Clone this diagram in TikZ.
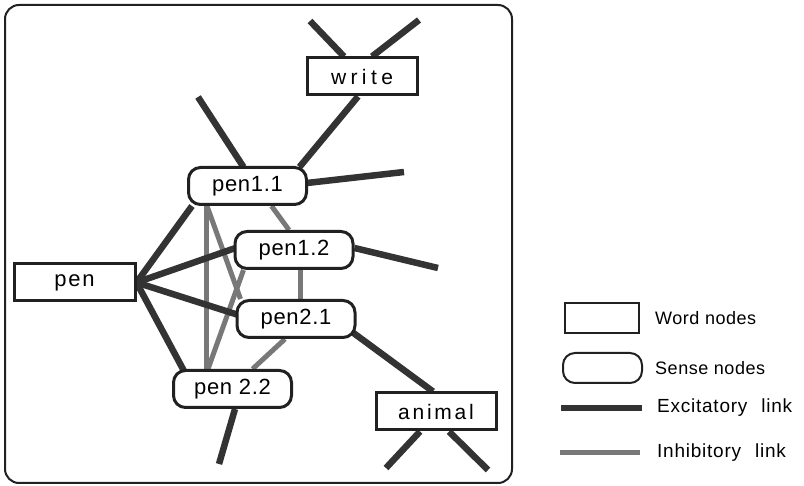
\documentclass[tikz,border=0pt]{standalone}
\usepackage{fontspec}
\setmainfont{Liberation Sans}
\usetikzlibrary{calc}
\pgfdeclarelayer{bg}
\pgfsetlayers{bg,main}
\definecolor{exc}{gray}{0.2}
\definecolor{inh}{gray}{0.47}
\definecolor{bord}{gray}{0.13}
\tikzset{
  wordnode/.style={draw=bord, line width=3pt, fill=white, minimum width=#1, minimum height=37pt, inner sep=0pt,
    font=\fontsize{21}{25}\selectfont\addfontfeatures{LetterSpace=8}},
  sensenode/.style={draw=bord, line width=3pt, fill=white, rounded corners=12pt, minimum width=118pt, minimum height=37pt, inner sep=0pt,
    font=\fontsize{22}{26}\selectfont\addfontfeatures{LetterSpace=3}},
  exclink/.style={draw=exc, line width=6.5pt},
  inhlink/.style={draw=inh, line width=5pt},
  legtext/.style={anchor=west, inner sep=0pt, font=\fontsize{18}{21}\selectfont\addfontfeatures{LetterSpace=3}}
}
\begin{document}
\begin{tikzpicture}[x=1pt,y=-1pt]
\useasboundingbox (0,0) rectangle (804,486);
\draw[bord, line width=2pt, rounded corners=14pt] (5,5) rectangle (512,483);
% nodes
\node[wordnode=110pt, font=\fontsize{21}{25}\selectfont\addfontfeatures{LetterSpace=21}] (write) at (362,76.5) {write};
\node[wordnode=121pt, font=\fontsize{22}{25}\selectfont\addfontfeatures{LetterSpace=8}] (pen) at (74.5,282.5) {pen};
\node[wordnode=120pt, font=\fontsize{21}{25}\selectfont\addfontfeatures{LetterSpace=13}] (animal) at (436,411.5) {animal};
\node[sensenode] (p11) at (247.5,186) {pen1.1};
\node[sensenode] (p12) at (294,250) {pen1.2};
\node[sensenode] (p21) at (296,319) {pen2.1};
\node[sensenode] (p22) at (232.5,389) {pen 2.2};
% free ends
\coordinate (wl) at (310,21);
\coordinate (wr) at (419,20);
\coordinate (f11) at (198,97);
\coordinate (f11r) at (404,172);
\coordinate (f12) at (438,268);
\coordinate (fa1) at (386,468);
\coordinate (fa2) at (488,470);
\coordinate (f22) at (219,464);
\begin{pgfonlayer}{bg}
% inhibitory links
\draw[inhlink] ($(p11.south west)+(19,0)$) -- ($(p22.north west)+(34,0)$);
\draw[inhlink] ($(p11.south west)+(20,0)$) -- ($(p21.north west)+(5,0)$);
\draw[inhlink] ($(p11.south)+(24,0)$) -- ($(p12.north)+(-5,0)$);
\draw[inhlink] ($(p12.south west)+(10,0)$) -- ($(p22.north west)+(36,0)$);
\draw[inhlink] ($(p12.south)+(6,0)$) -- ($(p21.north)+(4,0)$);
\draw[inhlink] ($(p21.south)+(-11,0)$) -- ($(p22.north)+(20,0)$);
% excitatory links
\draw[exclink] (wl) -- ($(write.north)+(-18,0)$);
\draw[exclink] (wr) -- ($(write.north)+(10,0)$);
\draw[exclink] ($(write.south)+(-4,0)$) -- ($(p11.north)+(52,1)$);
\draw[exclink] (f11) -- ($(p11.north)+(-4,1)$);
\draw[exclink] ($(p11.east)+(-1,-3)$) -- (f11r);
\draw[exclink] ($(p11.south west)+(5,0)$) -- (pen.east);
\draw[exclink] (pen.east) -- ($(p12.west)+(2,-2)$);
\draw[exclink] (pen.east) -- ($(p21.west)+(3,-4)$);
\draw[exclink] (pen.east) -- ($(p22.north west)+(12,2)$);
\draw[exclink] ($(p12.east)+(0,-2)$) -- (f12);
\draw[exclink] ($(p21.south east)+(-3,-6)$) -- ($(animal.north)+(-3,0)$);
\draw[exclink] ($(animal.south)+(-16,0)$) -- (fa1);
\draw[exclink] ($(animal.south)+(13,0)$) -- (fa2);
\draw[exclink] ($(p22.south)+(2.5,0)$) -- (f22);
\end{pgfonlayer}
% legend
\node[draw=bord, line width=2pt, minimum width=74pt, minimum height=30pt, inner sep=0pt] (lw) at (602,318) {};
\node[legtext] (lwt) at (655,318) {Word nodes};
\node[draw=bord, line width=2pt, rounded corners=12pt, minimum width=79pt, minimum height=30pt, inner sep=0pt] (ls) at (602.5,368) {};
\node[legtext] (lst) at (655,368) {Sense nodes};
\coordinate (le1) at (561,408);
\coordinate (le2) at (642,408);
\draw[exclink] (le1) -- (le2);
\node[legtext, font=\fontsize{19}{22}\selectfont\addfontfeatures{LetterSpace=4}] (let) at (657,408) {Excitatory\hspace{14pt}link};
\coordinate (li1) at (560,453);
\coordinate (li2) at (640,453);
\draw[inhlink] (li1) -- (li2);
\node[legtext, font=\fontsize{19}{22}\selectfont\addfontfeatures{LetterSpace=4}] (lit) at (657,453) {Inhibitory\hspace{14pt}link};
\end{tikzpicture}
\end{document}
